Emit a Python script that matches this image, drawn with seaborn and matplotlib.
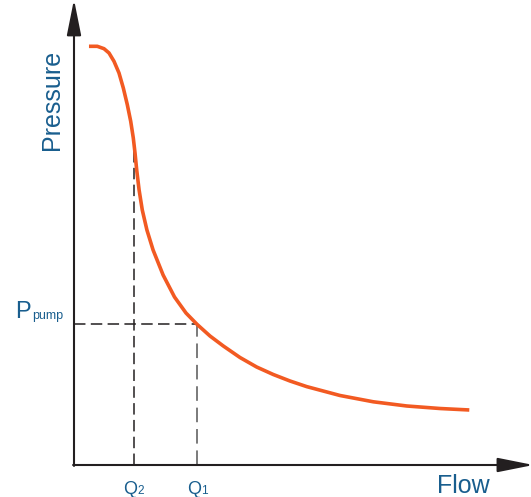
"""
Pump curve: pressure vs flow, with operating points marked
"""
import numpy as np
import pandas as pd
import matplotlib
matplotlib.use("Agg")
import matplotlib.pyplot as plt
import seaborn as sns

# curve (arbitrary units, 0-100 on each axis)
flow = [3.30, 5.13, 6.61, 7.71, 8.81, 9.91, 10.86, 11.74, 12.49, 13.06,
        13.44, 13.81, 14.34, 15.04, 16.06, 17.42, 19.63, 22.14, 24.67,
        27.09, 29.96, 32.89, 36.56, 40.24, 43.90, 47.58, 51.26, 58.59,
        65.93, 73.28, 80.62, 87.07]
pressure = [91.02, 91.02, 90.50, 89.57, 87.76, 85.22, 81.96, 78.33, 74.72,
            71.09, 67.83, 64.13, 59.78, 55.43, 51.09, 46.74, 41.30, 36.52,
            33.04, 30.59, 28.04, 25.87, 23.37, 21.30, 19.67, 18.26, 17.04,
            15.11, 13.74, 12.83, 12.28, 11.96]

q1 = 27.1
q2 = 13.2
q2_top = 70.0
p_pump = 30.6

CURVE = "#f25a22"
INK = "#231f20"
BLUE = "#195e8e"

sns.set_style("white")
plt.rcParams['font.family'] = ['Liberation Sans', 'DejaVu Sans']

fig = plt.figure(figsize=(5.31, 4.97), dpi=100)
ax = fig.add_axes([74 / 531, 32 / 497, 454 / 531, 460 / 497])

df = pd.DataFrame({"flow": flow, "pressure": pressure})
sns.lineplot(data=df, x="flow", y="pressure", ax=ax, color=CURVE,
             linewidth=2.6, sort=False, zorder=3,
             solid_capstyle="butt", solid_joinstyle="round")

# dashed guide lines
dash = (7.5, 3.5)
ax.plot([0, q1], [p_pump, p_pump], color=INK, lw=1.1, dashes=dash, zorder=2)
ax.plot([q2, q2], [0, q2_top], color=INK, lw=1.1, dashes=dash, zorder=2)
ax.plot([q1, q1], [0, p_pump], color="#7a7a7a", lw=1.4, dashes=dash, zorder=2)

# axes with arrow heads
arrow = dict(arrowstyle="-|>,head_length=1.1,head_width=0.22", color=INK,
             lw=1.5, shrinkA=0, shrinkB=0, mutation_scale=20)
ax.annotate("", xy=(101.2, 0), xytext=(-0.2, 0), arrowprops=arrow,
            annotation_clip=False)
ax.annotate("", xy=(0, 101.2), xytext=(0, -0.2), arrowprops=arrow,
            annotation_clip=False)

ax.set_xlim(0, 100)
ax.set_ylim(0, 100)
ax.axis("off")

# labels
ax.text(-4.8, 79.3, "Pressure", rotation=90, ha="center", va="center",
        fontsize=18, color=BLUE, clip_on=False)
ax.text(85.8, -6.1, "Flow", ha="center", va="baseline", fontsize=18,
        color=BLUE, clip_on=False)

ax.text(-9.5, 32.0, "P", ha="right", va="baseline", fontsize=17,
        color=BLUE, clip_on=False)
ax.text(-9.3, 31.8, "pump", ha="left", va="baseline", fontsize=9,
        color=BLUE, clip_on=False)

for q, sub in [(q2, "2"), (q1, "1")]:
    ax.text(q + 0.8, -6.2, "Q", ha="right", va="baseline", fontsize=13,
            color=BLUE, clip_on=False)
    ax.text(q + 0.8, -6.4, sub, ha="left", va="baseline", fontsize=8.5,
            color=BLUE, clip_on=False)

fig.savefig("out.png", dpi=100)
